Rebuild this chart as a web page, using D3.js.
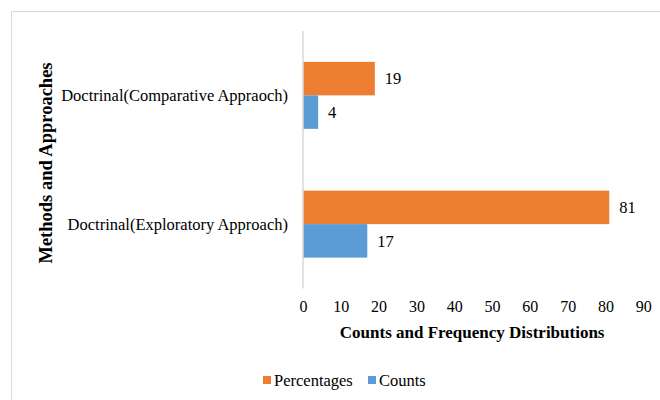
<!DOCTYPE html>
<html>
<head>
<meta charset="utf-8">
<script src="https://cdn.jsdelivr.net/npm/d3@7"></script>
<style>
  html, body { margin: 0; padding: 0; background: #fff; }
  svg { display: block; }
</style>
</head>
<body>
<svg id="chart" width="660" height="400"></svg>
<script>
// Methods used, with their share (percentages) and number of works (counts)
const categories = ["Doctrinal(Comparative Appraoch)", "Doctrinal(Exploratory Approach)"];
const seriesNames = ["Percentages", "Counts"];
const percentages = [19, 81];
const counts = [4, 17];
const xTicks = [0, 10, 20, 30, 40, 50, 60, 70, 80, 90];
const colors = { Percentages: "#ED7D31", Counts: "#5B9BD5" };

const rows = categories.map((c, i) => ({
  category: c,
  values: [
    { series: "Percentages", value: percentages[i] },
    { series: "Counts", value: counts[i] }
  ]
}));

const svg = d3.select("#chart");
const font = "'Liberation Serif', 'Times New Roman', serif";

// Chart-area frame (runs off the right and bottom edges)
svg.append("path")
  .attr("d", "M11.5,700 V11.5 H700")
  .attr("fill", "none")
  .attr("stroke", "#d9d9d9")
  .attr("stroke-width", 1);

const plot = { left: 303, right: 643.3, top: 31, bottom: 288.5 };

const x = d3.scaleLinear().domain([0, 90]).range([plot.left, plot.right]);
const y = d3.scaleBand().domain(categories).range([plot.top, plot.bottom]).paddingInner(0.48).paddingOuter(0.24);
const ySub = d3.scaleBand().domain(seriesNames).range([0, y.bandwidth()]);

// Bars
const groups = svg.append("g").selectAll("g")
  .data(rows).join("g")
  .attr("transform", d => `translate(0,${y(d.category)})`);

groups.selectAll("rect")
  .data(d => d.values).join("rect")
  .attr("x", x(0))
  .attr("y", d => ySub(d.series))
  .attr("width", d => x(d.value) - x(0))
  .attr("height", ySub.bandwidth())
  .attr("fill", d => colors[d.series]);

// Value labels
groups.selectAll("text")
  .data(d => d.values).join("text")
  .attr("x", d => x(d.value) + 10)
  .attr("y", d => ySub(d.series) + ySub.bandwidth() / 2)
  .attr("dy", "0.35em")
  .attr("font-family", font)
  .attr("font-size", 16.5)
  .attr("fill", "#000")
  .text(d => d.value);

// Vertical category axis line
svg.append("line")
  .attr("x1", x(0)).attr("x2", x(0))
  .attr("y1", plot.top).attr("y2", plot.bottom)
  .attr("stroke", "#d9d9d9").attr("stroke-width", 1.5);

// Category labels
svg.append("g").selectAll("text")
  .data(categories).join("text")
  .attr("x", 288)
  .attr("y", d => y(d) + y.bandwidth() / 2)
  .attr("dy", "0.35em")
  .attr("text-anchor", "end")
  .attr("font-family", font)
  .attr("font-size", 16.5)
  .attr("fill", "#000")
  .text(d => d);

// Value axis (labels only)
const xAxis = svg.append("g")
  .attr("transform", `translate(0,${plot.bottom})`)
  .call(d3.axisBottom(x).tickValues(xTicks).tickSize(0).tickPadding(12));
xAxis.select(".domain").remove();
xAxis.selectAll("text")
  .attr("font-family", font)
  .attr("font-size", 16)
  .attr("fill", "#000");

// Axis titles
svg.append("text")
  .attr("x", (plot.left + plot.right) / 2 - 1)
  .attr("y", 338)
  .attr("text-anchor", "middle")
  .attr("font-family", font)
  .attr("font-size", 17)
  .attr("font-weight", "bold")
  .attr("fill", "#000")
  .text("Counts and Frequency Distributions");

svg.append("text")
  .attr("transform", `translate(52,163) rotate(-90)`)
  .attr("text-anchor", "middle")
  .attr("font-family", font)
  .attr("font-size", 18.5)
  .attr("font-weight", "bold")
  .attr("fill", "#000")
  .text("Methods and Approaches");

// Legend
const legendItems = [
  { name: "Percentages", x: 263 },
  { name: "Counts", x: 368 }
];
const legend = svg.append("g").selectAll("g")
  .data(legendItems).join("g")
  .attr("transform", d => `translate(${d.x},380)`);
legend.append("rect")
  .attr("x", 0).attr("y", -4)
  .attr("width", 8).attr("height", 8)
  .attr("fill", d => colors[d.name]);
legend.append("text")
  .attr("x", 11).attr("y", 0)
  .attr("dy", "0.35em")
  .attr("font-family", font)
  .attr("font-size", 16.5)
  .attr("fill", "#000")
  .text(d => d.name);
</script>
</body>
</html>
